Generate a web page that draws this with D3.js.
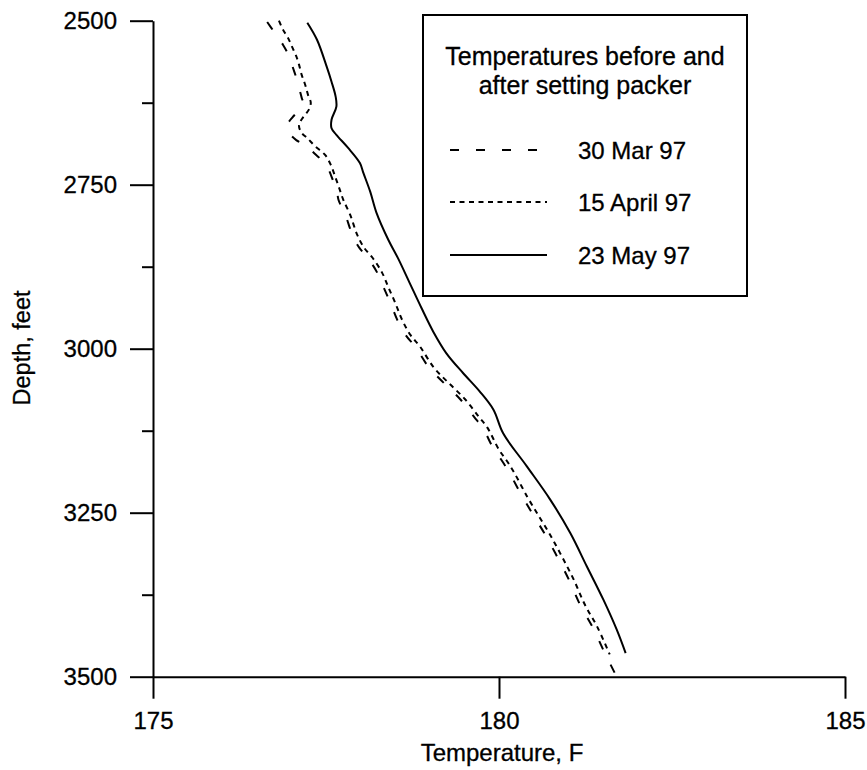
<!DOCTYPE html>
<html>
<head>
<meta charset="utf-8">
<script src="https://cdn.jsdelivr.net/npm/d3@7"></script>
<style>
  html, body { margin: 0; padding: 0; background: #fff; }
  svg text { font-family: "Liberation Sans", Arial, Helvetica, sans-serif; fill: #000; stroke: #000; stroke-width: 0.3px; }
</style>
</head>
<body>
<svg id="chart" width="867" height="770"></svg>
<script>
// ---- data ----
const depthMar = [2502,2517,2537,2555,2571,2590,2606,2618,2625,2636,2648,2657,2667,2682,2689,2702,2720,2743,2761,
  2773,2796,2826,2846,2861,2884,2906,2930,2956,2979,2997,3029,3053,3077,3104,3120,3154,3172,3189,3226,3256,3284,3317,3352,3390,3424,3462,3498];
const tempMar = [176.65,176.75,176.88,176.97,177.02,177.08,177.12,177.15,177.17,177.11,177.01,176.95,176.94,177.07,177.20,177.33,177.50,177.60,177.66,
  177.68,177.78,177.88,177.98,178.10,178.24,178.33,178.43,178.53,178.65,178.79,178.99,179.21,179.44,179.64,179.76,179.93,180.05,180.15,180.34,180.51,180.67,180.84,181.01,181.17,181.35,181.52,181.69];

const depthApr = [2500,2514,2526,2540,2554,2567,2583,2598,2613,2625,2636,2647,2659,2670,2679,2691,2705,2720,2740,2758,
  2773,2796,2826,2846,2861,2884,2906,2930,2956,2979,2997,3029,3053,3077,3104,3120,3154,3172,3189,3226,3256,3284,3317,3352,3390,3424,3466];
const tempApr = [176.82,176.88,176.95,177.01,177.07,177.11,177.15,177.20,177.24,177.28,177.25,177.17,177.11,177.14,177.23,177.34,177.49,177.57,177.64,177.70,
  177.75,177.85,177.95,178.05,178.17,178.31,178.40,178.50,178.60,178.72,178.86,179.06,179.28,179.51,179.71,179.83,180.00,180.12,180.22,180.41,180.58,180.74,180.91,181.08,181.24,181.42,181.60];

const depthMay = [2503,2529,2570,2593,2616,2631,2651,2664,2674,2694,2717,2732,2761,2793,2834,2862,2900,2938,2974,3007,3037,3065,3093,3129,3179,3230,3281,3332,3383,3428,3464];
const tempMay = [177.23,177.37,177.51,177.58,177.64,177.65,177.58,177.58,177.65,177.82,177.99,178.04,178.14,178.23,178.40,178.54,178.71,178.88,179.05,179.24,179.48,179.72,179.92,180.06,180.40,180.74,181.03,181.27,181.51,181.70,181.83];

const seriesNames = ["30 Mar 97", "15 April 97", "23 May 97"];
const yMajorTicks = [2500, 2750, 3000, 3250, 3500];
const yMinorTicks = [2625, 2875, 3125, 3375];
const xTicks = [175, 180, 185];
const legendTitle = ["Temperatures before and", "after setting packer"];

// ---- drawing ----
const svg = d3.select("#chart");
const x = d3.scaleLinear().domain([175, 185]).range([153, 845]);
const y = d3.scaleLinear().domain([2500, 3500]).range([20.7, 676.7]);

const series = [
  { name: seriesNames[0], d: depthMar, t: tempMar, dash: "9,17" },
  { name: seriesNames[1], d: depthApr, t: tempApr, dash: "5,4.5" },
  { name: seriesNames[2], d: depthMay, t: tempMay, dash: null }
];

const line = d3.line()
  .x(p => x(p[0]))
  .y(p => y(p[1]))
  .curve(d3.curveCatmullRom.alpha(0.5));

series.forEach(s => {
  const pts = s.t.map((t, i) => [t, s.d[i]]);
  svg.append("path")
    .attr("d", line(pts))
    .attr("fill", "none")
    .attr("stroke", "#000")
    .attr("stroke-width", 2)
    .attr("stroke-dasharray", s.dash);
});

// Y axis
svg.append("g").attr("transform", "translate(153,0)")
  .call(d3.axisLeft(y).tickValues(yMajorTicks).tickSize(23).tickSizeOuter(0).tickPadding(13).tickFormat(d3.format("d")));
svg.append("g").attr("transform", "translate(153,0)")
  .call(d3.axisLeft(y).tickValues(yMinorTicks).tickSize(11).tickSizeOuter(0).tickFormat(""))
  .select(".domain").remove();

// X axis
svg.append("g").attr("transform", "translate(0,676.7)")
  .call(d3.axisBottom(x).tickValues(xTicks).tickSize(22).tickSizeOuter(0).tickPadding(13).tickFormat(d3.format("d")));

svg.selectAll(".tick text").attr("font-size", 24).attr("font-family", "Liberation Sans, Arial, sans-serif").attr("fill", "#000");
svg.selectAll(".domain, .tick line").attr("stroke", "#000").attr("stroke-width", 2);

// Axis titles
svg.append("text")
  .attr("transform", "translate(30,348) rotate(-90)")
  .attr("text-anchor", "middle")
  .attr("font-size", 23.5)
  .text("Depth, feet");
svg.append("text")
  .attr("x", 502).attr("y", 761)
  .attr("text-anchor", "middle")
  .attr("font-size", 24)
  .text("Temperature, F");

// Legend
const lg = svg.append("g");
lg.append("rect")
  .attr("x", 423).attr("y", 15).attr("width", 324).attr("height", 281)
  .attr("fill", "#fff").attr("stroke", "#000").attr("stroke-width", 2);
legendTitle.forEach((t, i) => {
  lg.append("text").attr("x", 585).attr("y", 65 + i * 29)
    .attr("text-anchor", "middle").attr("font-size", 25).text(t);
});
const legendY = [150, 202, 255];
const legendEnd = [537, 547, 547];
series.forEach((s, i) => {
  lg.append("line")
    .attr("x1", 450).attr("x2", legendEnd[i])
    .attr("y1", legendY[i]).attr("y2", legendY[i])
    .attr("stroke", "#000").attr("stroke-width", 2)
    .attr("stroke-dasharray", s.dash);
  lg.append("text").attr("x", 578).attr("y", legendY[i] + 8.5)
    .attr("font-size", 24).text(s.name);
});
</script>
</body>
</html>
